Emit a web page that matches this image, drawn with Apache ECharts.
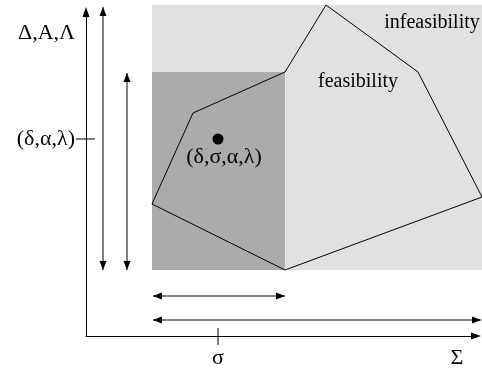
<!DOCTYPE html>
<html>
<head>
<meta charset="utf-8">
<script src="https://cdn.jsdelivr.net/npm/echarts@6/dist/echarts.min.js"></script>
<style>
  html, body { margin: 0; padding: 0; background: #fff; }
  #chart { width: 482px; height: 371px; }
</style>
</head>
<body>
<div id="chart"></div>
<script>
// Parameter point on the axes
const sigma = 132;
const delta = 197;

// Axis label positions
const xLabelValues = [sigma, 371];
const xLabelTexts = ['σ', 'Σ'];
const yLabelValues = [delta, 303];
const yLabelTexts = ['(δ,α,λ)', 'Δ,A,Λ'];

// Regions: [x0, x1, y0, y1]
const outerBox = [66, 396, 66, 331];
const innerBox = [66, 199, 66, 264];

// Feasible region boundary
const feasibleX = [240, 332, 396, 199, 66, 107, 199];
const feasibleY = [331, 264, 139, 66, 132, 223, 264];

// Range arrows: vertical [x, yFrom, yTo], horizontal [y, xFrom, xTo]
const vArrows = [[17, 66, 329], [41, 66, 263]];
const hArrows = [[40, 67, 199], [16, 67, 395]];

// Text annotations
const noteTexts = ['infeasibility', 'feasibility', '(δ,σ,α,λ)'];
const noteX = [346, 272, 138];
const noteY = [313, 254, 179];
const noteSizes = [20, 20, 22];

const FONT = '"Liberation Serif", "Times New Roman", serif';
const chart = echarts.init(document.getElementById('chart'), null, { renderer: 'canvas' });

function arrowHead(tip, from) {
  const dx = tip[0] - from[0], dy = tip[1] - from[1];
  const len = Math.sqrt(dx * dx + dy * dy) || 1;
  const ux = dx / len, uy = dy / len;
  const L = 9, W = 3.5;
  const bx = tip[0] - ux * L, by = tip[1] - uy * L;
  return {
    type: 'polygon',
    shape: { points: [tip, [bx - uy * W, by + ux * W], [bx + uy * W, by - ux * W]] },
    style: { fill: '#000' }
  };
}

function doubleArrow(a, b) {
  return [
    { type: 'line', shape: { x1: a[0], y1: a[1], x2: b[0], y2: b[1] }, style: { stroke: '#000', lineWidth: 1 } },
    arrowHead(a, b),
    arrowHead(b, a)
  ];
}

function renderDiagram(params, api) {
  const children = [];
  const rect = (box, color) => {
    const p0 = api.coord([box[0], box[3]]);
    const p1 = api.coord([box[1], box[2]]);
    return { type: 'rect', shape: { x: p0[0], y: p0[1], width: p1[0] - p0[0], height: p1[1] - p0[1] }, style: { fill: color } };
  };
  children.push(rect(outerBox, '#e1e1e1'));
  children.push(rect(innerBox, '#ababab'));

  const pts = feasibleX.map((x, i) => api.coord([x, feasibleY[i]]));
  children.push({ type: 'polygon', shape: { points: pts }, style: { fill: 'none', stroke: '#000', lineWidth: 1 } });

  vArrows.forEach(a => {
    children.push(...doubleArrow(api.coord([a[0], a[2]]), api.coord([a[0], a[1]])));
  });
  hArrows.forEach(a => {
    children.push(...doubleArrow(api.coord([a[1], a[0]]), api.coord([a[2], a[0]])));
  });

  // ticks crossing the axes
  const sx = api.coord([sigma, 0]);
  children.push({ type: 'line', shape: { x1: sx[0], y1: sx[1] - 8, x2: sx[0], y2: sx[1] + 9 }, style: { stroke: '#000', lineWidth: 1 } });
  const dy = api.coord([0, delta]);
  children.push({ type: 'line', shape: { x1: dy[0] - 10, y1: dy[1], x2: dy[0] + 9, y2: dy[1] }, style: { stroke: '#000', lineWidth: 1 } });

  // the point (δ,σ,α,λ)
  const pc = api.coord([sigma, delta]);
  children.push({ type: 'circle', shape: { cx: pc[0], cy: pc[1], r: 5.5 }, style: { fill: '#000' } });

  noteTexts.forEach((t, i) => {
    const p = api.coord([noteX[i], noteY[i]]);
    children.push({
      type: 'text', x: p[0], y: p[1],
      style: { text: t, fill: '#000', font: noteSizes[i] + 'px ' + FONT, align: 'center', verticalAlign: 'middle' }
    });
  });
  return { type: 'group', children };
}

chart.setOption({
  animation: false,
  backgroundColor: '#fff',
  grid: { left: 86, right: 6, top: 12, bottom: 35 },
  xAxis: {
    type: 'value', min: 0, max: 390,
    axisLine: { show: true, onZero: false, symbol: ['none', 'triangle'], symbolSize: [7, 10], lineStyle: { color: '#000', width: 1 } },
    axisTick: { show: false },
    splitLine: { show: false },
    axisLabel: {
      customValues: xLabelValues,
      formatter: v => xLabelTexts[xLabelValues.indexOf(v)],
      margin: 11, color: '#000', fontSize: 22, fontFamily: FONT
    }
  },
  yAxis: {
    type: 'value', min: 0, max: 324,
    axisLine: { show: true, onZero: false, symbol: ['none', 'triangle'], symbolSize: [7, 10], lineStyle: { color: '#000', width: 1 } },
    axisTick: { show: false },
    splitLine: { show: false },
    axisLabel: {
      customValues: yLabelValues,
      formatter: v => yLabelTexts[yLabelValues.indexOf(v)],
      margin: 11, color: '#000', fontSize: 22, fontFamily: FONT
    }
  },
  series: [{
    type: 'custom',
    clip: false,
    renderItem: renderDiagram,
    data: [[0, 0]],
    z: 1
  }]
});
</script>
</body>
</html>
